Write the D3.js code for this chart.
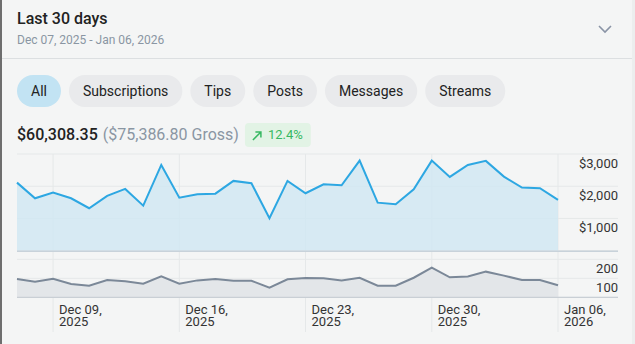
<!DOCTYPE html>
<html><head><meta charset="utf-8">
<script src="https://cdn.jsdelivr.net/npm/d3@7"></script>
<style>
html,body{margin:0;padding:0;background:#f4f5f5;}
svg{display:block;font-family:Roboto,"Noto Sans",sans-serif;}
</style></head>
<body>
<svg id="c" width="635" height="344"></svg>
<script>
const dates = ["2025-12-07","2025-12-08","2025-12-09","2025-12-10","2025-12-11","2025-12-12","2025-12-13","2025-12-14","2025-12-15","2025-12-16","2025-12-17","2025-12-18","2025-12-19","2025-12-20","2025-12-21","2025-12-22","2025-12-23","2025-12-24","2025-12-25","2025-12-26","2025-12-27","2025-12-28","2025-12-29","2025-12-30","2025-12-31","2026-01-01","2026-01-02","2026-01-03","2026-01-04","2026-01-05","2026-01-06"];
const earnings = [2112,1627,1801,1627,1317,1699,1916,1398,2661,1646,1752,1770,2165,2093,1006,2165,1783,2062,2031,2795,1491,1441,1907,2795,2289,2661,2786,2298,1957,1938,1575];
const counts = [96,82,98,70,61,91,84,72,110,72,89,96,87,87,51,95,101,100,89,103,61,61,103,156,105,110,135,114,91,91,63];
const tabs = ["All","Subscriptions","Tips","Posts","Messages","Streams"];
const mainTicks = [1000,2000,3000];
const lowTicks = [100,200];
const xTicks = ["2025-12-09","2025-12-16","2025-12-23","2025-12-30","2026-01-06"];
const title = "Last 30 days";
const subtitle = "Dec 07, 2025 - Jan 06, 2026";
const net = "$60,308.35";
const gross = "($75,386.80 Gross)";
const change = "12.4%";

const parse = d3.utcParse("%Y-%m-%d");
const data = dates.map((d,i)=>({date:parse(d), v:earnings[i], c:counts[i]}));
const svg = d3.select("#c");

// card borders
svg.append("rect").attr("x",0).attr("y",0).attr("width",2).attr("height",344).attr("fill","#6e6e6e");
svg.append("rect").attr("x",632).attr("y",0).attr("width",3).attr("height",344).attr("fill","#eceeee");
svg.append("line").attr("x1",2).attr("x2",632).attr("y1",58.5).attr("y2",58.5).attr("stroke","#dcdfe1");

// header
svg.append("text").attr("x",17).attr("y",24).attr("font-size",16).attr("font-weight",500).attr("fill","#222").text(title);
svg.append("text").attr("x",17).attr("y",43.5).attr("font-size",12).attr("fill","#8a96a3").text(subtitle);
svg.append("path").attr("d","M599,26 L605,32 L611,26").attr("fill","none").attr("stroke","#8a94a6").attr("stroke-width",1.6);

// tabs
let tx = 17;
tabs.forEach((t,i)=>{
  const g = svg.append("g");
  const txt = g.append("text").attr("y",91).attr("dy","0.35em").attr("font-size",14).attr("fill","#222").text(t);
  const w = txt.node().getComputedTextLength() + 28;
  g.insert("rect","text").attr("x",tx).attr("y",75).attr("width",w).attr("height",32).attr("rx",16)
    .attr("fill", i===0 ? "#c2e3f3" : "#e9eaec");
  txt.attr("x", tx + w/2).attr("text-anchor","middle");
  tx += w + 8;
});

// summary
const s1 = svg.append("text").attr("x",17).attr("y",140).attr("font-size",16).attr("font-weight",500).attr("fill","#222").text(net);
const w1 = s1.node().getComputedTextLength();
const s2 = svg.append("text").attr("x",17+w1+5).attr("y",140).attr("font-size",16).attr("fill","#8a96a3").text(gross);
const w2 = s2.node().getComputedTextLength();
const bx = 17+w1+5+w2+6;
const bg = svg.append("rect").attr("x",bx).attr("y",123).attr("height",24).attr("rx",4).attr("fill","#e2f3e5");
svg.append("path").attr("d",`M${bx+8},${140} L${bx+16},${132} M${bx+10.5},${132} L${bx+16},${132} L${bx+16},${137.5}`)
  .attr("fill","none").attr("stroke","#37b862").attr("stroke-width",1.5);
const bt = svg.append("text").attr("x",bx+23).attr("y",139).attr("font-size",13).attr("fill","#37b862").text(change);
bg.attr("width", 23 + bt.node().getComputedTextLength() + 8);

// scales
const x = d3.scaleUtc().domain([data[0].date, data[data.length-1].date]).range([17,558]);
const yM = d3.scaleLinear().domain([0,3000]).range([250.7,154]);
const yL = d3.scaleLinear().domain([0,200]).range([297.3,259.3]);

const grid = svg.append("g");
[0,...mainTicks].forEach(t=>{
  grid.append("line").attr("x1",17).attr("x2",618).attr("y1",yM(t)).attr("y2",yM(t)).attr("stroke","#e5e8e9");
});
[0,...lowTicks].forEach(t=>{
  grid.append("line").attr("x1",17).attr("x2",618).attr("y1",yL(t)).attr("y2",yL(t)).attr("stroke","#e5e8e9");
});
xTicks.forEach(d=>{
  const xv = x(parse(d));
  grid.append("line").attr("x1",xv).attr("x2",xv).attr("y1",154).attr("y2",332).attr("stroke","#e5e8e9");
});

// main area
const areaM = d3.area().x(d=>x(d.date)).y0(yM(0)).y1(d=>yM(d.v));
const lineM = d3.line().x(d=>x(d.date)).y(d=>yM(d.v));
svg.append("path").datum(data).attr("d",areaM).attr("fill","#cfe7f3").attr("opacity",0.8);
svg.append("path").datum(data).attr("d",lineM).attr("fill","none").attr("stroke","#2da7e2").attr("stroke-width",2);
svg.append("line").attr("x1",17).attr("x2",618).attr("y1",yM(0)+0.5).attr("y2",yM(0)+0.5).attr("stroke","#c8d2da").attr("stroke-width",1.5);

// lower area
const areaL = d3.area().x(d=>x(d.date)).y0(yL(0)).y1(d=>yL(d.c));
const lineL = d3.line().x(d=>x(d.date)).y(d=>yL(d.c));
svg.append("path").datum(data).attr("d",areaL).attr("fill","#e3e6e9");
svg.append("path").datum(data).attr("d",lineL).attr("fill","none").attr("stroke","#7b8898").attr("stroke-width",2);
svg.append("line").attr("x1",17).attr("x2",618).attr("y1",yL(0)).attr("y2",yL(0)).attr("stroke","#c9cfd5").attr("stroke-width",1.2);

// y labels
const fmtM = d3.format("$,");
mainTicks.forEach(t=>{
  svg.append("text").attr("x",618).attr("y",yM(t)+9).attr("dy","0.35em").attr("text-anchor","end")
    .attr("font-size",13).attr("fill","#333").text(fmtM(t));
});
lowTicks.forEach(t=>{
  svg.append("text").attr("x",618).attr("y",yL(t)+9.5).attr("dy","0.35em").attr("text-anchor","end")
    .attr("font-size",13).attr("fill","#333").text(t);
});

// x labels (two lines in one text)
const fmt1 = d3.utcFormat("%b %d,");
const fmt2 = d3.utcFormat("%Y");
xTicks.forEach(d=>{
  const dt = parse(d); const xv = x(dt)+6;
  const t = svg.append("text").attr("font-size",13).attr("fill","#333");
  t.append("tspan").attr("x",xv).attr("y",309).attr("dy","0.35em").text(fmt1(dt));
  t.append("tspan").attr("x",xv).attr("y",321.7).attr("dy","0.35em").text(fmt2(dt));
});
</script>
</body></html>
